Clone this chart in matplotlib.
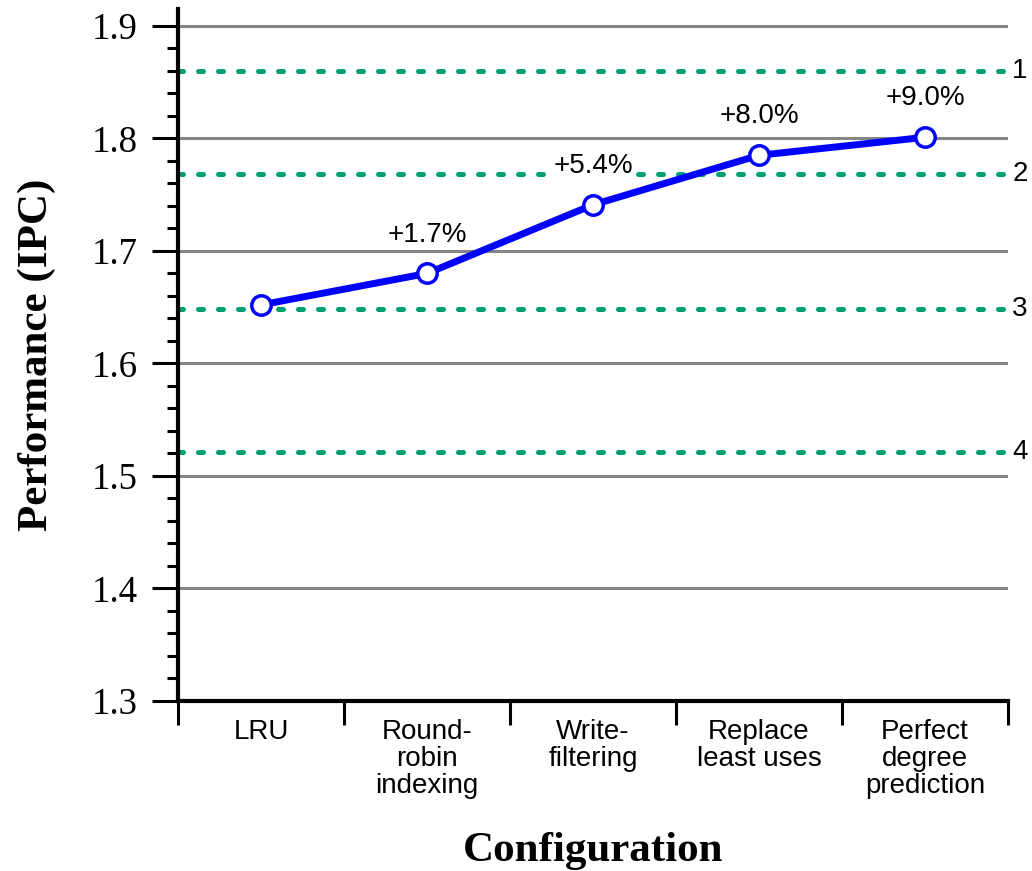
import matplotlib
matplotlib.use('Agg')
import matplotlib.pyplot as plt
from matplotlib.ticker import MultipleLocator, FixedLocator

configs = ['LRU', 'Round-\nrobin\nindexing', 'Write-\nfiltering',
           'Replace\nleast uses', 'Perfect\ndegree\nprediction']
ipc = [1.652, 1.680, 1.741, 1.785, 1.801]
gains = ['', '+1.7%', '+5.4%', '+8.0%', '+9.0%']
ref_levels = [1.860, 1.768, 1.648, 1.521]
ref_labels = ['1', '2', '3', '4']

sans = 'Liberation Sans'
serif = 'Liberation Serif'

fig = plt.figure(figsize=(10.32, 8.71), dpi=100)
ax = fig.add_axes([178/1032, 1 - 701/871, 830/1032, 692/871])

x = list(range(len(configs)))
ax.set_xlim(-0.5, len(configs) - 0.5)
ax.set_ylim(1.3, 1.915)

# gray grid at the major values
for v in [1.4, 1.5, 1.6, 1.7, 1.8, 1.9]:
    ax.axhline(v, color='#858585', lw=2.2, zorder=1)

# green dotted reference levels
for lvl, lab in zip(ref_levels, ref_labels):
    ax.axhline(lvl, color='#009E73', lw=3.6, dashes=(1, 3),
               dash_capstyle='round', zorder=2)
    ax.text(1.005, lvl, lab, transform=ax.get_yaxis_transform(),
            fontsize=20, family=sans, va='center', ha='left')

ax.plot(x, ipc, color='#0000FF', lw=5, marker='o', markersize=14,
        markerfacecolor='white', markeredgecolor='#0000FF',
        markeredgewidth=2.5, zorder=4, clip_on=False)

for xi, yi, g in zip(x, ipc, gains):
    if not g:
        continue
    bbox = dict(facecolor='white', edgecolor='none', pad=1) if g == '+5.4%' else None
    ax.annotate(g, (xi, yi), xytext=(0, 28), textcoords='offset points',
                ha='center', va='center', fontsize=20, family=sans,
                bbox=bbox, zorder=3)

for s in ['top', 'right']:
    ax.spines[s].set_visible(False)
for s in ['left', 'bottom']:
    ax.spines[s].set_linewidth(3)

ax.yaxis.set_major_locator(FixedLocator([1.3, 1.4, 1.5, 1.6, 1.7, 1.8, 1.9]))
ax.yaxis.set_minor_locator(MultipleLocator(0.02))
ax.tick_params(axis='y', which='major', length=18.5, width=2.2, pad=10.5,
               labelsize=26.5, direction='out')
ax.tick_params(axis='y', which='minor', length=8, width=2.2, direction='out')
for t in ax.get_yticklabels():
    t.set_family(serif)

ax.set_xticks(x)
ax.set_xticklabels(configs, fontsize=20, family=sans, linespacing=1.05)
ax.set_xticks([i - 0.5 for i in range(len(configs) + 1)], minor=True)
ax.tick_params(axis='x', which='major', length=0, pad=13)
ax.tick_params(axis='x', which='minor', length=17, width=2.2, direction='out')

ax.set_ylabel('Performance (IPC)', fontsize=31, family=serif,
              fontweight='bold', va='center')
ax.yaxis.set_label_coords(-0.17, 0.5)
ax.set_xlabel('Configuration', fontsize=31, family=serif,
              fontweight='bold', va='center')
ax.xaxis.set_label_coords(0.5, -0.217)

fig.savefig('out.png', dpi=100)
